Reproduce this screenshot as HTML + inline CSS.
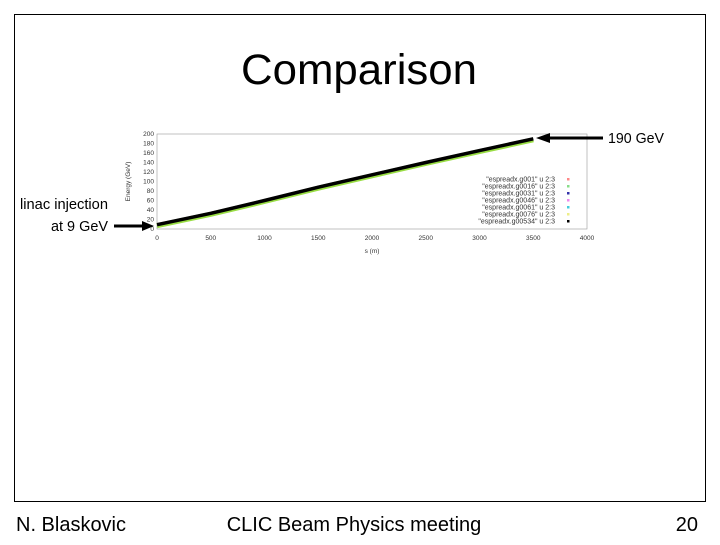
<!DOCTYPE html>
<html><head><meta charset="utf-8"><style>
body{margin:0;background:#fff;width:720px;height:540px;overflow:hidden;font-family:"Liberation Sans",sans-serif}
</style></head><body>
<svg width="720" height="540" viewBox="0 0 720 540" xmlns="http://www.w3.org/2000/svg" font-family="Liberation Sans, sans-serif">
<rect x="14.5" y="14.5" width="691" height="487" fill="#fff" stroke="#000" stroke-width="1"/>
<text x="359" y="84" font-size="43" text-anchor="middle" textLength="236" lengthAdjust="spacingAndGlyphs">Comparison</text>
<g id="chart"></g>
<text x="608" y="143" font-size="15" textLength="56" lengthAdjust="spacingAndGlyphs">190 GeV</text>
<text x="108" y="209" font-size="15" text-anchor="end" textLength="88" lengthAdjust="spacingAndGlyphs">linac injection</text>
<text x="108" y="231" font-size="15" text-anchor="end" textLength="57" lengthAdjust="spacingAndGlyphs">at 9 GeV</text>
<line x1="603" y1="138" x2="548" y2="138" stroke="#000" stroke-width="3"/>
<polygon points="536,138 550,133 550,143" fill="#000"/>
<line x1="114" y1="226" x2="142" y2="226" stroke="#000" stroke-width="3"/>
<polygon points="154,226 142,221 142,231" fill="#000"/>
<text x="16" y="531" font-size="20" textLength="110" lengthAdjust="spacingAndGlyphs">N. Blaskovic</text>
<text x="354" y="531" font-size="20" text-anchor="middle">CLIC Beam Physics meeting</text>
<text x="698" y="531" font-size="20" text-anchor="end">20</text>
</svg>
<script>
const sValues=[0,500,1000,1500,2000,2500,3000,3500];
const energyValues=[9,33,60,88,114,140,165,190];
const xTicks=[0,500,1000,1500,2000,2500,3000,3500,4000];
const yTicks=[0,20,40,60,80,100,120,140,160,180,200];
const legendLabels=['"espreadx.g001" u 2:3','"espreadx.g0016" u 2:3','"espreadx.g0031" u 2:3','"espreadx.g0046" u 2:3','"espreadx.g0061" u 2:3','"espreadx.g0076" u 2:3','"espreadx.g00534" u 2:3'];
const legendColors=['#f88','#8d8','#33a','#e8e','#4cd','#ee8','#000'];
const NS="http://www.w3.org/2000/svg";
const g=document.getElementById('chart');
const L=157,R=587,T=134,B=229;
const xs=v=>L+(v-0)/4000*(R-L);
const ys=v=>B-(v/200)*(B-T);
function mk(t,a,p){const e=document.createElementNS(NS,t);for(const k in a)e.setAttribute(k,a[k]);(p||g).appendChild(e);return e;}
const frame=mk('rect',{x:L,y:T,width:R-L,height:B-T,fill:'none',stroke:'#999','stroke-width':0.6});


xTicks.forEach(v=>{
 const t=mk('text',{x:xs(v),y:B+11,'font-size':6.5,'text-anchor':'middle',fill:'#333'});t.textContent=v;
 
 
});
yTicks.forEach(v=>{
 const t=mk('text',{x:L-3,y:ys(v)+2,'font-size':6.5,'text-anchor':'end',fill:'#333'});t.textContent=v;
 
 
});
const xt=mk('text',{x:(L+R)/2,y:B+24,'font-size':6.5,'text-anchor':'middle',fill:'#333'});xt.textContent='s (m)';


const yt=mk('text',{x:0,y:0,'font-size':6.5,'text-anchor':'middle',fill:'#333',transform:`translate(130,${(T+B)/2}) rotate(-90)`});yt.textContent='Energy (GeV)';


let d=sValues.map((s,i)=>(i?'L':'M')+xs(s).toFixed(1)+','+ys(energyValues[i]).toFixed(1)).join(' ');
const c1=mk('path',{d:d,fill:'none',stroke:'#9d4','stroke-width':5,transform:'translate(0,1)'});


const c2=mk('path',{d:d,fill:'none',stroke:'#000','stroke-width':3.5,'stroke-linejoin':'round'});


legendLabels.forEach((lab,i)=>{
 const y=T+45+i*7;
 const t=mk('text',{x:555,y:y+2.5,'font-size':7,'text-anchor':'end',fill:'#333'});t.textContent=lab;
 
 
 const m=mk('rect',{x:567,y:y-1,width:2.5,height:2.5,fill:legendColors[i]});
 
 
});
</script>
</body></html>
